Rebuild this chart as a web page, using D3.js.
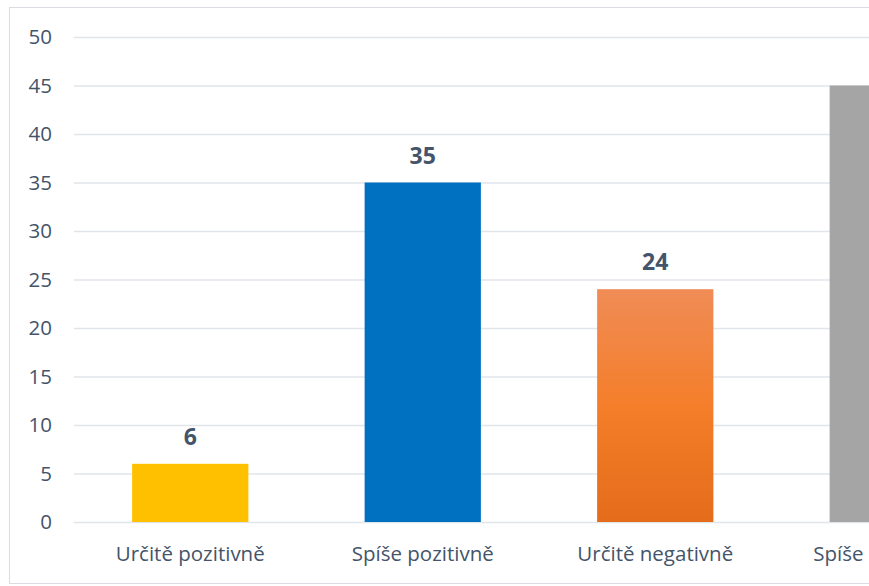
<!DOCTYPE html>
<html>
<head>
<meta charset="utf-8">
<script src="https://cdn.jsdelivr.net/npm/d3@7"></script>
<style>
  body { margin: 0; background: #fff; overflow: hidden; }
  text { font-family: "Open Sans", sans-serif; fill: #44546a; }
</style>
</head>
<body>
<div id="chart-area"></div>
<script>
// data
var categories = ["Určitě pozitivně", "Spíše pozitivně", "Určitě negativně", "Spíše negativně"];
var values = [6, 35, 24, 45];
var barColors = ["#FFC000", "#0070C0", "url(#orangeGrad)", "#A5A5A5"];
var yTicks = [0, 5, 10, 15, 20, 25, 30, 35, 40, 45, 50];

var svg = d3.select("#chart-area").append("svg")
    .attr("width", 869)
    .attr("height", 586);

var defs = svg.append("defs");
var grad = defs.append("linearGradient")
    .attr("id", "orangeGrad")
    .attr("x1", 0).attr("y1", 0).attr("x2", 0).attr("y2", 1);
grad.append("stop").attr("offset", "0%").attr("stop-color", "#F08C56");
grad.append("stop").attr("offset", "50%").attr("stop-color", "#F47E2A");
grad.append("stop").attr("offset", "100%").attr("stop-color", "#E46C1A");

// chart border (runs off the right edge)
svg.append("rect")
    .attr("x", 9.5).attr("y", 7.5)
    .attr("width", 1000).attr("height", 576)
    .attr("fill", "none")
    .attr("stroke", "#d9dde3");

// scales
var x = d3.scaleBand()
    .domain(categories)
    .range([74, 1004])
    .paddingInner(0.5)
    .paddingOuter(0.25);

var y = d3.scaleLinear()
    .domain([0, 50])
    .range([522, 37]);

// gridlines
svg.append("g").selectAll("line")
    .data(yTicks)
    .enter().append("line")
    .attr("x1", 74).attr("x2", 1004)
    .attr("y1", d => y(d) + 0.5).attr("y2", d => y(d) + 0.5)
    .attr("stroke", "#e1e5ea")
    .attr("stroke-width", 1.3);

// y axis labels
var yAxis = d3.axisLeft(y).tickValues(yTicks).tickSize(0).tickPadding(0);
var yAxisGroup = svg.append("g")
    .attr("transform", "translate(52,0)")
    .call(yAxis);
yAxisGroup.select(".domain").remove();
yAxisGroup.selectAll("text")
    .attr("font-size", "20.5px")
    .attr("font-family", "Open Sans, sans-serif")
    .attr("fill", "#44546a");

// bars
svg.append("g").selectAll("rect")
    .data(values)
    .enter().append("rect")
    .attr("x", (d, i) => x(categories[i]))
    .attr("y", d => y(d))
    .attr("width", x.bandwidth())
    .attr("height", d => y(0) - y(d))
    .attr("fill", (d, i) => barColors[i]);

// value labels
svg.append("g").selectAll("text")
    .data(values)
    .enter().append("text")
    .attr("x", (d, i) => x(categories[i]) + x.bandwidth() / 2)
    .attr("y", d => y(d) - 19)
    .attr("text-anchor", "middle")
    .attr("font-size", "23px")
    .attr("font-weight", "bold")
    .text(d => d);

// x axis
var xAxis = d3.axisBottom(x).tickSize(0).tickPadding(0);
var xAxisGroup = svg.append("g")
    .attr("transform", "translate(0,522)")
    .call(xAxis);
xAxisGroup.select(".domain").remove();
xAxisGroup.selectAll("text")
    .attr("y", 39)
    .attr("dy", 0)
    .attr("font-size", "20.5px")
    .attr("font-family", "Open Sans, sans-serif")
    .attr("fill", "#44546a");
</script>
</body>
</html>
